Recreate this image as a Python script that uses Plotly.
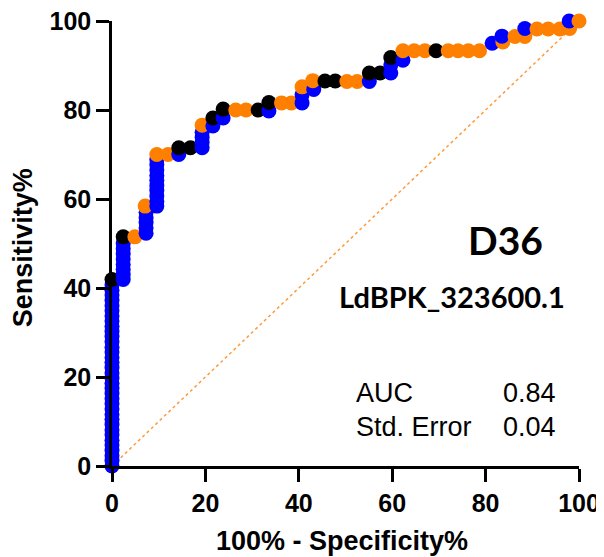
import plotly.graph_objects as go

# ROC points in curve order, (100% - specificity, sensitivity), with a colour group
# B = blue, O = orange, K = black
fpr = [0] * 36 + [0] + [2.4] * 8 + [2.4, 4.9] + [7.3] * 5 + [7.1] + [9.6] * 10 + [9.6, 12.0, 14.3, 14.3, 16.8] \
    + [19.3] * 4 + [19.3, 21.6, 21.6, 23.8, 23.8, 26.5, 28.7, 31.3, 33.6, 33.6, 36.3, 38.4,
                    40.7, 40.7, 40.7, 43.2, 43.0, 45.6, 47.8, 50.3, 52.5, 55.1, 55.1, 57.4,
                    59.7, 59.7, 59.7, 62.3, 62.3, 64.7, 67.0, 69.4, 72.0, 74.1, 76.3, 78.7,
                    81.4, 83.7, 83.5, 86.3, 88.4, 88.4, 91.0, 93.4, 95.9, 98.0, 97.9, 100]
sens = [0, 1.2, 2.3, 3.5, 4.7, 5.8, 7.0, 8.1, 9.3, 10.5, 11.6, 12.8, 14.0, 15.1, 16.3, 17.4,
        18.6, 19.8, 20.9, 22.1, 23.3, 24.4, 25.6, 26.7, 27.9, 29.1, 30.2, 31.4, 32.6, 33.7,
        34.9, 36.0, 37.2, 38.4, 39.5, 40.7,
        41.9,
        41.9, 43.0, 44.2, 45.3, 46.5, 47.7, 48.8, 50.0,
        51.5, 51.5,
        52.3, 53.5, 54.7, 55.8, 57.0, 58.4,
        58.4, 59.5, 60.7, 61.9, 63.0, 64.2, 65.3, 66.5, 67.7, 68.8,
        70.0, 70.0, 70.0, 71.5, 71.5,
        71.5, 72.7, 73.8, 75.0,
        76.6, 76.4, 78.2, 78.2, 80.2, 80.0, 80.0, 80.0, 79.8, 81.7, 81.6, 81.6,
        81.6, 83.4, 85.2, 84.6, 86.6, 86.5, 86.5, 86.4, 86.4, 86.4, 88.3, 88.3,
        88.3, 90.1, 91.8, 91.2, 93.3, 93.3, 93.3, 93.3, 93.3, 93.3, 93.3, 93.3,
        95.0, 95.3, 96.6, 96.5, 96.5, 98.3, 98.2, 98.2, 98.2, 98.3, 100, 100]
grp = list("B" * 36) + ["K"] + list("B" * 8) + ["K", "O"] + list("B" * 5) + ["O"] + list("B" * 10) \
    + list("OOBKK") + list("BBBB") \
    + list("OBKBKOOKBKOO") + list("BBOBOKKOOBKK") + list("BBKBOOOKOOOO") + list("BOBOOBOOOOBO")

auc_label, auc_value = "AUC", "0.84"
se_label, se_value = "Std. Error", "0.04"
title_big = "D36"
title_small = "LdBPK_323600.1"
x_title = "100% - Specificity%"
y_title = "Sensitivity%"

palette = {"B": "#0000FF", "O": "#FF8000", "K": "#000000"}

fig = go.Figure()
fig.add_trace(go.Scatter(x=[0, 100], y=[0, 100], mode="lines",
                         line=dict(color="#FF9A3C", width=1.5, dash="dot"),
                         hoverinfo="skip"))
fig.add_trace(go.Scatter(x=fpr, y=sens, mode="markers", cliponaxis=False,
                         marker=dict(size=15, color=[palette[g] for g in grp], line=dict(width=0))))

axis_font = dict(family="Arial, Liberation Sans", size=25, color="black", weight="bold")
axis_common = dict(range=[0, 100], dtick=20, showline=True, linewidth=2.5, linecolor="black",
                   ticks="outside", ticklen=13, tickwidth=2.5, tickcolor="black",
                   showgrid=False, zeroline=False, tickfont=axis_font, automargin=False,
                   ticklabeloverflow="allow")
fig.update_xaxes(**axis_common)
fig.update_yaxes(**axis_common)

# axis titles as paper annotations
title_font = dict(family="Arial, Liberation Sans", size=27, color="black", weight="bold")
fig.add_annotation(x=0.4925, y=-0.169, xref="paper", yref="paper", text=x_title, showarrow=False,
                   yanchor="middle", font=title_font)
fig.add_annotation(x=-0.19, y=0.49, xref="paper", yref="paper", text=y_title, showarrow=False,
                   textangle=-90, xanchor="center", yanchor="middle", font=title_font)

fig.add_annotation(x=84.2, y=50.8, text=title_big, showarrow=False,
                   font=dict(family="Lato", size=39, color="black", weight="bold"))
fig.add_annotation(x=72.8, y=38.2, text=title_small, showarrow=False,
                   font=dict(family="Lato", size=29, color="black", weight="bold"))
txt = dict(family="Arial, Liberation Sans", size=27, color="black")
fig.add_annotation(x=51.8, y=16.4, text=auc_label, showarrow=False, xanchor="left", font=txt)
fig.add_annotation(x=83.4, y=16.4, text=auc_value, showarrow=False, xanchor="left", font=txt)
fig.add_annotation(x=51.8, y=8.8, text=se_label, showarrow=False, xanchor="left", font=txt)
fig.add_annotation(x=83.4, y=8.8, text=se_value, showarrow=False, xanchor="left", font=txt)

# page body adds an 8px offset, so the figure is 8px smaller and margins shifted
fig.update_layout(width=596, height=549, showlegend=False,
                  margin=dict(l=104, r=25, t=13, b=91),
                  plot_bgcolor="white", paper_bgcolor="white")
fig.write_html("out.html")
